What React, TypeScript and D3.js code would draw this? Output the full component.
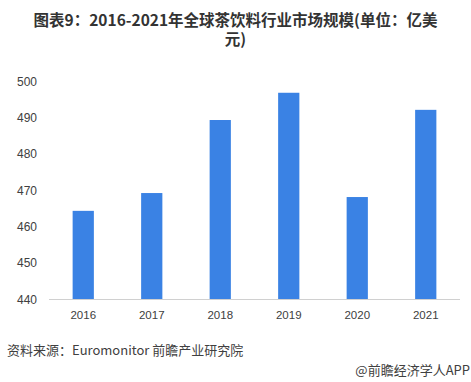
import React from "react";
import * as d3 from "d3";

const years = ["2016", "2017", "2018", "2019", "2020", "2021"];
const values = [464.4, 469.3, 489.4, 496.9, 468.2, 492.2];
const yTicks = [440, 450, 460, 470, 480, 490, 500];
const titleLines = ["图表9：2016-2021年全球茶饮料行业市场规模(单位：亿美", "元)"];
const sourceText = "资料来源：Euromonitor 前瞻产业研究院";
const brandText = "@前瞻经济学人APP";

const W = 471;
const H = 382;

export default function App() {
  const x = d3.scaleBand<string>().domain(years).range([49, 460]).paddingInner(0.69).paddingOuter(0.345);
  const y = d3.scaleLinear().domain([440, 500]).range([299.5, 81.5]);
  const cjk = "'Noto Sans CJK SC', 'Noto Sans', sans-serif";
  const latin = "'Liberation Sans', Arial, sans-serif";
  return (
    <svg width={W} height={H} style={{ position: "absolute", left: 0, top: 0, background: "#fff" }}>
      <rect x={0} y={0} width={W} height={H} fill="#fff" />
      {titleLines.map((t, i) => (
        <text key={i} x={W / 2} y={25.5 + i * 19} textAnchor="middle" fontFamily={cjk} fontWeight="bold" fontSize={15.5} fill="#333">
          {t}
        </text>
      ))}
      {yTicks.map((v) => (
        <text key={v} x={37} y={y(v)} dy="0.35em" textAnchor="end" fontFamily={latin} fontSize={12} fill="#404040">
          {v}
        </text>
      ))}
      {years.map((yr, i) => (
        <rect key={yr} x={x(yr)} y={y(values[i])} width={x.bandwidth()} height={y(440) - y(values[i])} fill="#3a82e4" />
      ))}
      <line x1={49} x2={460} y1={y(440)} y2={y(440)} stroke="#d0d0d0" strokeWidth={1} />
      {years.map((yr) => (
        <text key={yr} x={(x(yr) as number) + x.bandwidth() / 2} y={315} dy="0.35em" textAnchor="middle" fontFamily={latin} fontSize={11.5} fill="#404040">
          {yr}
        </text>
      ))}
      <text x={7} y={350} dy="0.35em" fontFamily={cjk} fontSize={13} fill="#404040">
        {sourceText}
      </text>
      <text x={470} y={370} dy="0.35em" textAnchor="end" fontFamily={cjk} fontSize={13} fill="#404040">
        {brandText}
      </text>
    </svg>
  );
}
